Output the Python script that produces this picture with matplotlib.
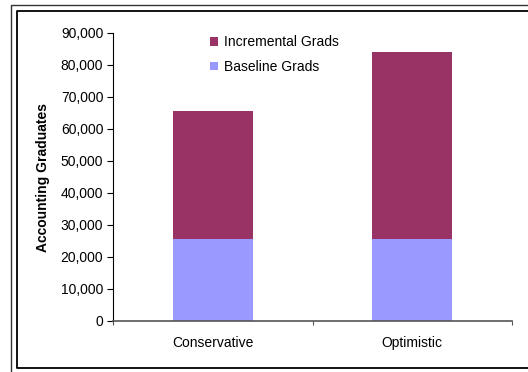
import matplotlib.pyplot as plt
from matplotlib.lines import Line2D
from matplotlib.ticker import FuncFormatter

categories = ['Conservative', 'Optimistic']
baseline = [25700, 25700]
incremental = [39900, 58300]

plt.rcParams['font.family'] = ['Liberation Sans', 'DejaVu Sans']

W, H = 528, 372
fig = plt.figure(figsize=(W / 100, H / 100), dpi=100)
ax = fig.add_axes([113 / W, 1 - 321 / H, 399 / W, 288 / H])

x = [0, 1]
b1 = ax.bar(x, baseline, width=0.4, color='#9999FF', label='Baseline Grads')
b2 = ax.bar(x, incremental, width=0.4, bottom=baseline, color='#993366',
            label='Incremental Grads')

ax.set_xlim(-0.5, 1.5)
ax.set_ylim(0, 90000)
ax.set_yticks(range(0, 90001, 10000))
ax.yaxis.set_major_formatter(FuncFormatter(lambda v, p: f'{int(v):,}'))
ax.set_xticks([-0.5, 0.5, 1.5])
ax.set_xticklabels([])
ax.set_xticks(x, minor=True)
ax.set_xticklabels(categories, minor=True)
ax.tick_params(axis='x', which='minor', length=0, pad=11, labelsize=10)
ax.tick_params(axis='x', which='major', length=3, color='#555555')
ax.tick_params(axis='y', length=4, labelsize=10, pad=3)

for s in ['top', 'right']:
    ax.spines[s].set_visible(False)
ax.spines['left'].set_color('black')
ax.spines['bottom'].set_color('#555555')
ax.spines['bottom'].set_linewidth(1.2)

ax.set_ylabel('Accounting Graduates', fontsize=10, fontweight='bold', labelpad=8)

ax.legend([b2, b1], ['Incremental Grads', 'Baseline Grads'], frameon=False,
          loc='upper left', bbox_to_anchor=(197 / W, 1 - 23 / H),
          bbox_transform=fig.transFigure, fontsize=10, handlelength=0.6,
          handleheight=0.6, handletextpad=0.45, labelspacing=0.75)

# double frame round the chart
def fline(xs, ys, **kw):
    fig.add_artist(Line2D([v / W for v in xs], [1 - v / H for v in ys],
                          transform=fig.transFigure, **kw))

fline([10.5, 10.5, W + 5], [H + 5, 4.5, 4.5], color='#333333', lw=1.0)
fline([W + 5, 17, 17, W + 5], [11, 11, 368, 368], color='black', lw=1.3)

fig.savefig('out.png', dpi=100)
